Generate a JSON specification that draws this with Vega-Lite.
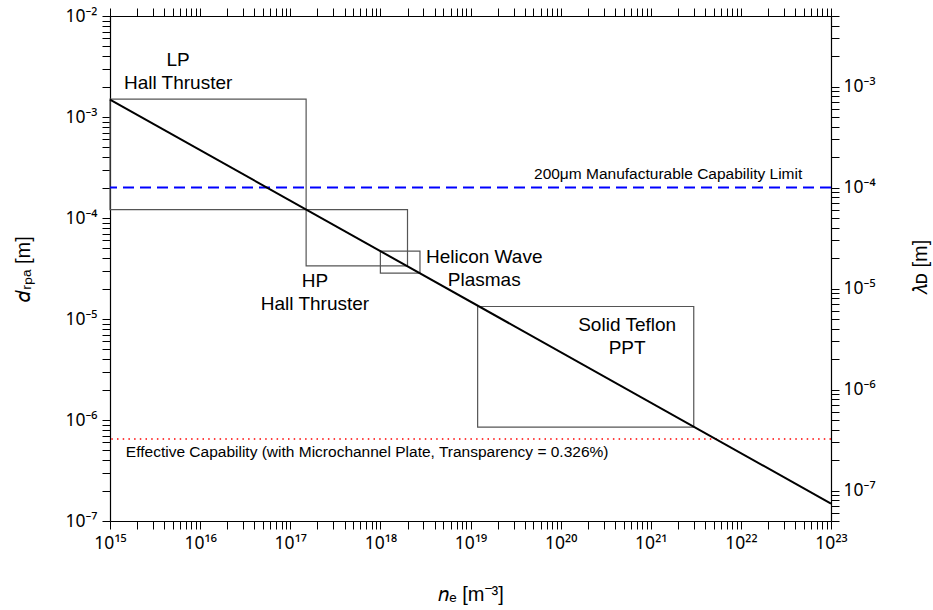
{
  "$schema": "https://vega.github.io/schema/vega-lite/v6.json",
  "width": 721,
  "height": 505,
  "autosize": {"type": "none"},
  "padding": {"left": 110, "top": 16, "right": 102, "bottom": 89},
  "background": "white",
  "config": {
    "view": {"stroke": null},
    "axis": {
      "grid": false,
      "labelFont": "Noto Sans",
      "labelFontSize": 17.5,
      "labelColor": "black",
      "labelOverlap": false,
      "labelFlush": false,
      "domainColor": "black",
      "domainWidth": 1.2,
      "tickColor": "black",
      "tickWidth": 1,
      "tickSize": 8,
      "titleFont": "Liberation Sans",
      "titleFontSize": 20,
      "titleFontWeight": "normal",
      "titleColor": "black",
      "titleAlign": "center",
      "titleBaseline": "middle",
      "labelExpr": "abs(log(datum.value)/LN10 - round(log(datum.value)/LN10)) > 0.001 ? '' : '10' + replace(replace(replace(replace(replace(replace(replace(replace(replace(replace(replace('' + round(log(datum.value)/LN10), regexp('-','g'), '⁻'), regexp('0','g'), '⁰'), regexp('1','g'), '¹'), regexp('2','g'), '²'), regexp('3','g'), '³'), regexp('4','g'), '⁴'), regexp('5','g'), '⁵'), regexp('6','g'), '⁶'), regexp('7','g'), '⁷'), regexp('8','g'), '⁸'), regexp('9','g'), '⁹')"
    }
  },
  "datasets": {
    "regimes": [
      {"regime": "LP Hall Thruster", "ne_min": 1e15, "ne_max": 1.5e17, "d_min": 1.21e-4, "d_max": 1.5e-3, "label": "LP\nHall Thruster", "label_ne": 5.7e15, "label_d": 2.82e-3},
      {"regime": "HP Hall Thruster", "ne_min": 1.5e17, "ne_max": 2e18, "d_min": 3.35e-5, "d_max": 1.21e-4, "label": "HP\nHall Thruster", "label_ne": 1.88e17, "label_d": 1.81e-5},
      {"regime": "Helicon Wave Plasmas", "ne_min": 1e18, "ne_max": 2.75e18, "d_min": 2.85e-5, "d_max": 4.7e-5, "label": "Helicon Wave\nPlasmas", "label_ne": 1.42e19, "label_d": 3.13e-5},
      {"regime": "Solid Teflon PPT", "ne_min": 1.2e19, "ne_max": 3e21, "d_min": 8.5e-7, "d_max": 1.33e-5, "label": "Solid Teflon\nPPT", "label_ne": 5.47e20, "label_d": 6.64e-6}
    ],
    "limits": [
      {"limit": "Manufacturable", "d": 2e-4, "label": "200μm Manufacturable Capability Limit", "label_ne": 4.8e22},
      {"limit": "Effective", "d": 6.5e-7, "label": "Effective Capability (with Microchannel Plate, Transparency = 0.326%)", "label_ne": 1.5e15}
    ],
    "debye": [
      {"ne": 1e15, "lambda": 7.43e-4},
      {"ne": 1e23, "lambda": 7.43e-8}
    ]
  },
  "resolve": {
    "scale": {"x": "independent", "y": "independent"},
    "axis": {"x": "independent", "y": "independent"}
  },
  "layer": [
    {
      "data": {"name": "regimes"},
      "mark": {"type": "rect", "fill": "white", "fillOpacity": 0, "stroke": "#555555", "strokeWidth": 1.2},
      "encoding": {
        "x": {
          "field": "ne_min", "type": "quantitative",
          "scale": {"type": "log", "domain": [1e15, 1e23], "nice": false},
          "axis": {
            "orient": "bottom",
            "title": "𝑛ₑ [m⁻³]",
            "titleX": 360.5,
            "titleY": 73,
            "labelPadding": 5,
            "labelBaseline": "top",
            "values": [1e15,2e15,3e15,4e15,5e15,6e15,7e15,8e15,9e15,1e16,2e16,3e16,4e16,5e16,6e16,7e16,8e16,9e16,1e17,2e17,3e17,4e17,5e17,6e17,7e17,8e17,9e17,1e18,2e18,3e18,4e18,5e18,6e18,7e18,8e18,9e18,1e19,2e19,3e19,4e19,5e19,6e19,7e19,8e19,9e19,1e20,2e20,3e20,4e20,5e20,6e20,7e20,8e20,9e20,1e21,2e21,3e21,4e21,5e21,6e21,7e21,8e21,9e21,1e22,2e22,3e22,4e22,5e22,6e22,7e22,8e22,9e22,1e23],
            "encode": {"ticks": {"update": {"y2": {"signal": "abs(log(datum.value)/LN10 - round(log(datum.value)/LN10)) < 0.001 ? -8 : -4.5"}}}}
          }
        },
        "x2": {"field": "ne_max"},
        "y": {
          "field": "d_min", "type": "quantitative",
          "scale": {"type": "log", "domain": [1e-7, 1e-2], "nice": false},
          "axis": {
            "orient": "left",
            "title": "𝑑ᵣₚₐ [m]",
            "titleX": -87,
            "titleY": 252.5,
            "titleAngle": 270,
            "labelPadding": 5,
            "values": [1e-7,2e-7,3e-7,4e-7,5e-7,6e-7,7e-7,8e-7,9e-7,1e-6,2e-6,3e-6,4e-6,5e-6,6e-6,7e-6,8e-6,9e-6,1e-5,2e-5,3e-5,4e-5,5e-5,6e-5,7e-5,8e-5,9e-5,1e-4,2e-4,3e-4,4e-4,5e-4,6e-4,7e-4,8e-4,9e-4,1e-3,2e-3,3e-3,4e-3,5e-3,6e-3,7e-3,8e-3,9e-3,1e-2],
            "encode": {"ticks": {"update": {"x2": {"signal": "abs(log(datum.value)/LN10 - round(log(datum.value)/LN10)) < 0.001 ? 8 : 4.5"}}}}
          }
        },
        "y2": {"field": "d_max"}
      }
    },
    {
      "data": {"name": "limits"},
      "transform": [{"filter": "datum.limit === 'Manufacturable'"}],
      "mark": {"type": "rule", "color": "#0000ff", "strokeWidth": 2, "strokeDash": [11, 6]},
      "encoding": {
        "y": {"field": "d", "type": "quantitative", "scale": {"type": "log", "domain": [1e-7, 1e-2], "nice": false}, "axis": null}
      }
    },
    {
      "data": {"name": "limits"},
      "transform": [{"filter": "datum.limit === 'Effective'"}],
      "mark": {"type": "rule", "color": "#ff0000", "strokeWidth": 1.5, "strokeDash": [1.5, 4.2]},
      "encoding": {
        "y": {"field": "d", "type": "quantitative", "scale": {"type": "log", "domain": [1e-7, 1e-2], "nice": false}, "axis": null}
      }
    },
    {
      "data": {"name": "limits"},
      "transform": [{"filter": "datum.limit === 'Manufacturable'"}],
      "mark": {"type": "text", "font": "Liberation Sans", "fontSize": 15.5, "align": "right", "baseline": "alphabetic", "dy": -8.5, "color": "black"},
      "encoding": {
        "x": {"field": "label_ne", "type": "quantitative", "scale": {"type": "log", "domain": [1e15, 1e23], "nice": false}, "axis": null},
        "y": {"field": "d", "type": "quantitative", "scale": {"type": "log", "domain": [1e-7, 1e-2], "nice": false}, "axis": null},
        "text": {"field": "label"}
      }
    },
    {
      "data": {"name": "limits"},
      "transform": [{"filter": "datum.limit === 'Effective'"}],
      "mark": {"type": "text", "font": "Liberation Sans", "fontSize": 15.5, "align": "left", "baseline": "alphabetic", "dy": 17.8, "color": "black"},
      "encoding": {
        "x": {"field": "label_ne", "type": "quantitative", "scale": {"type": "log", "domain": [1e15, 1e23], "nice": false}, "axis": null},
        "y": {"field": "d", "type": "quantitative", "scale": {"type": "log", "domain": [1e-7, 1e-2], "nice": false}, "axis": null},
        "text": {"field": "label"}
      }
    },
    {
      "data": {"name": "regimes"},
      "mark": {"type": "text", "font": "Liberation Sans", "fontSize": 19, "align": "center", "baseline": "middle", "lineBreak": "\n", "lineHeight": 23, "dy": -11.5, "color": "black"},
      "encoding": {
        "x": {"field": "label_ne", "type": "quantitative", "scale": {"type": "log", "domain": [1e15, 1e23], "nice": false}, "axis": null},
        "y": {"field": "label_d", "type": "quantitative", "scale": {"type": "log", "domain": [1e-7, 1e-2], "nice": false}, "axis": null},
        "text": {"field": "label"}
      }
    },
    {
      "data": {"name": "debye"},
      "mark": {"type": "line", "color": "black", "strokeWidth": 2},
      "encoding": {
        "x": {
          "field": "ne", "type": "quantitative",
          "scale": {"type": "log", "domain": [1e15, 1e23], "nice": false},
          "axis": {
            "orient": "top",
            "title": null,
            "labels": false,
            "values": [1e15,2e15,3e15,4e15,5e15,6e15,7e15,8e15,9e15,1e16,2e16,3e16,4e16,5e16,6e16,7e16,8e16,9e16,1e17,2e17,3e17,4e17,5e17,6e17,7e17,8e17,9e17,1e18,2e18,3e18,4e18,5e18,6e18,7e18,8e18,9e18,1e19,2e19,3e19,4e19,5e19,6e19,7e19,8e19,9e19,1e20,2e20,3e20,4e20,5e20,6e20,7e20,8e20,9e20,1e21,2e21,3e21,4e21,5e21,6e21,7e21,8e21,9e21,1e22,2e22,3e22,4e22,5e22,6e22,7e22,8e22,9e22,1e23],
            "encode": {"ticks": {"update": {"y2": {"signal": "abs(log(datum.value)/LN10 - round(log(datum.value)/LN10)) < 0.001 ? 8 : 4.5"}}}}
          }
        },
        "y": {
          "field": "lambda", "type": "quantitative",
          "scale": {"type": "log", "domain": [5e-8, 5e-3], "nice": false},
          "axis": {
            "orient": "right",
            "title": "𝜆ᴅ [m]",
            "titleX": 89,
            "titleY": 251,
            "titleAngle": 270,
            "labelPadding": 4,
            "values": [5e-8,6e-8,7e-8,8e-8,9e-8,1e-7,2e-7,3e-7,4e-7,5e-7,6e-7,7e-7,8e-7,9e-7,1e-6,2e-6,3e-6,4e-6,5e-6,6e-6,7e-6,8e-6,9e-6,1e-5,2e-5,3e-5,4e-5,5e-5,6e-5,7e-5,8e-5,9e-5,1e-4,2e-4,3e-4,4e-4,5e-4,6e-4,7e-4,8e-4,9e-4,1e-3,2e-3,3e-3,4e-3,5e-3],
            "encode": {"ticks": {"update": {"x2": {"signal": "abs(log(datum.value)/LN10 - round(log(datum.value)/LN10)) < 0.001 ? -8 : -4.5"}}}}
          }
        }
      }
    }
  ]
}
